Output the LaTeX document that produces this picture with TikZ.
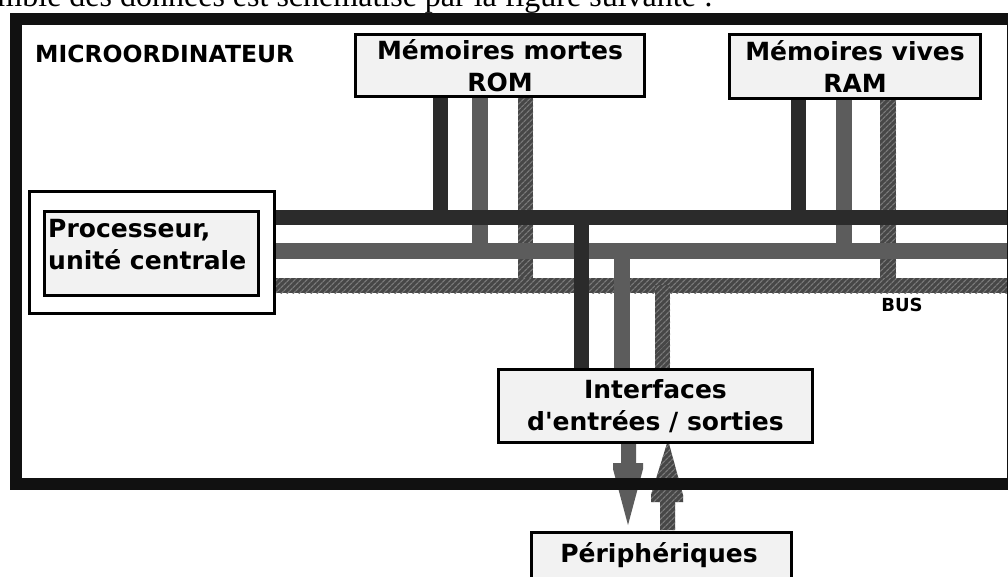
\documentclass[tikz,border=0pt]{standalone}
\usepackage{fontspec}
\newfontfamily\lblfont{DejaVu Sans}
\newfontfamily\textserif{Liberation Serif}
\usetikzlibrary{patterns.meta}
\pgfdeclarelayer{bg}
\pgfsetlayers{bg,main}
\definecolor{framec}{HTML}{111111}
\definecolor{busblack}{HTML}{2B2B2B}
\definecolor{busgray}{HTML}{5C5C5C}
\definecolor{hatchbase}{HTML}{474747}
\definecolor{hatchline}{HTML}{7A7A7A}
\definecolor{boxfill}{HTML}{F2F2F2}
\newcommand\lbl{\lblfont\bfseries\fontsize{25}{32}\selectfont}
\begin{document}
\begin{tikzpicture}[x=1pt,y=-1pt,
  box/.style={draw=black, line width=3pt, fill=boxfill, inner sep=0pt, align=center, font=\lbl},
  txt/.style={inner sep=0pt, font=\lbl},
  kbar/.style={fill=busblack},
  gbar/.style={fill=busgray},
  hbar/.style={fill=hatchbase, postaction={pattern={Lines[angle=45,distance=4pt,line width=1.3pt]}, pattern color=hatchline}}]
\useasboundingbox (0,0) rectangle (1008,576);

% cut-off text line at the top
\node[anchor=base east, inner sep=0pt, font=\textserif\fontsize{32}{32}\selectfont] (intro) at (713,6) {emble des données est schématisé par la figure suivante :};

% boxes
\node[box, minimum width=289, minimum height=62] (rom) at (500,65.5) {Mémoires mortes\\ROM};
\node[box, minimum width=251, minimum height=64] (ram) at (855,66.5) {Mémoires vives\\RAM};
\node[draw=black, line width=3pt, fill=white, inner sep=0pt, minimum width=245, minimum height=122] (cpuout) at (152,252.5) {};
\node[box, minimum width=214, minimum height=84] (cpu) at (151.5,253.5) {};
\node[txt, anchor=north west, align=left] (cpulabel) at (48,219) {Processeur,\\unité centrale};
\node[box, minimum width=314, minimum height=73] (io) at (655.5,406) {Interfaces\\d'entrées / sorties};
\node[box, anchor=north, minimum width=260, minimum height=80] (peri) at (661.5,530.5) {};
\node[txt, anchor=base] (perilabel) at (659,562) {Périphériques};
\node[inner sep=0pt, anchor=base, font=\lblfont\bfseries\fontsize{18}{18}\selectfont] (bus) at (902,311) {BUS};

% bus levels and column positions
\coordinate (kt) at (0,210); \coordinate (kc) at (0,217);
\coordinate (gt) at (0,243); \coordinate (gc) at (0,251);
\coordinate (ht) at (0,278); \coordinate (hc) at (0,285);
\coordinate (ioK) at (581.5,0); \coordinate (ioG) at (622,0); \coordinate (ioH) at (662.5,0);

\begin{pgfonlayer}{bg}
  \fill[white] (0,0) rectangle (1008,576);
  % verticals from ROM
  \fill[kbar] (432.5,96) rectangle (448,217);
  \fill[gbar] (472,96) rectangle (488,251);
  \fill[hbar] (518,96) rectangle (533,285);
  % verticals from RAM
  \fill[kbar] (791,98) rectangle (806,217);
  \fill[gbar] (836,98) rectangle (852,251);
  \fill[hbar] (880,98) rectangle (896,285);
  % the three buses
  \fill[kbar] (cpuout.east |- kt) rectangle (1008,225);
  \fill[gbar] (cpuout.east |- gt) rectangle (1008,259);
  \fill[hbar] (cpuout.east |- ht) rectangle (1008,293);
  % verticals to the interfaces
  \fill[hbar] ([xshift=-7.5pt]ioH |- hc) rectangle ([xshift=7.5pt]io.north -| ioH);
  \fill[gbar] ([xshift=-8pt]ioG |- gc) rectangle ([xshift=8pt]io.north -| ioG);
  \fill[kbar] ([xshift=-7.5pt]ioK |- kc) rectangle ([xshift=7.5pt]io.north -| ioK);
  % arrows between interfaces and peripherals
  \fill[busgray] (621,444) -- (636,444) -- (636,463) -- (643,463) -- (643,469)
     -- (628,525) -- (613,469) -- (613,463) -- (621,463) -- cycle;
  \fill[hbar] (668,440) -- (683,495) -- (683,502) -- (675,502) -- (675,530)
     -- (660,530) -- (660,502) -- (651,502) -- (651,495) -- cycle;
\end{pgfonlayer}

% outer frame of the microcomputer
\node[draw=framec, line width=12pt, inner sep=0pt, minimum width=997, minimum height=465] (micro) at (514.5,251.5) {};
\node[inner sep=0pt, anchor=base west, font=\lblfont\bfseries\fontsize{23.5}{24}\selectfont] (microlabel) at (35,62) {MICROORDINATEUR};
\end{tikzpicture}
\end{document}
